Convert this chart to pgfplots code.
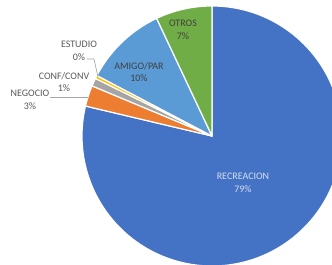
\documentclass[border=0pt]{standalone}
\usepackage{pgfplots}
\usepackage{pgfplotstable}
\pgfplotsset{compat=1.18}
\usepackage{fontspec}
\setmainfont{Carlito}
\definecolor{cRec}{HTML}{4472C4}
\definecolor{cNeg}{HTML}{ED7D31}
\definecolor{cConf}{HTML}{A5A5A5}
\definecolor{cEst}{HTML}{FFC000}
\definecolor{cAmi}{HTML}{5B9BD5}
\definecolor{cOtr}{HTML}{70AD47}
\definecolor{txtdark}{HTML}{404040}
\definecolor{txtout}{HTML}{595959}
\definecolor{txtlight}{HTML}{D6DEF0}
\definecolor{leader}{HTML}{A6A6A6}
\pgfplotstableread{
name value col
RECREACION 78.7 cRec
NEGOCIO 2.6 cNeg
CONF/CONV 1.0 cConf
ESTUDIO 0.4 cEst
AMIGO/PAR 10.3 cAmi
OTROS 7.0 cOtr
}\piedata
\begin{document}
\begin{tikzpicture}
\begin{axis}[name=ax, x=1pt, y=1pt, xmin=0, xmax=332, ymin=0, ymax=265,
  hide axis, clip=true]
\addplot[draw=none, forget plot] coordinates {(0,0) (332,265)};
\pgfplotsextra{
  \begin{scope}
  \clip (axis cs:0,0) rectangle (axis cs:332,265);
  \def\cum{0}
  \pgfplotsforeachungrouped \i in {0,...,5}{
    \pgfplotstablegetelem{\i}{value}\of\piedata \let\v\pgfplotsretval
    \pgfplotstablegetelem{\i}{col}\of\piedata \let\c\pgfplotsretval
    \pgfmathsetmacro\sa{90-3.6*\cum}
    \pgfmathsetmacro\cum{\cum+\v}
    \pgfmathsetmacro\ea{90-3.6*\cum}
    \fill[fill=\c, draw=white, line width=1.2pt, line join=round]
      (axis cs:212,129) -- ++(\sa:130pt) arc[start angle=\sa, end angle=\ea, radius=130pt] -- cycle;
  }
  \end{scope}
  \draw[leader, line width=0.7pt] (axis cs:87,206) -- (axis cs:94,206) -- (axis cs:98,188);
  \draw[leader, line width=0.7pt] (axis cs:50,167.5) -- (axis cs:88,167.5);
  \tikzset{lbl/.style={align=center, inner sep=0pt, font=\fontsize{10}{12.5}\selectfont}}
  \node[lbl, text=txtdark] at (axis cs:183,235) {OTROS\\7\%};
  \node[lbl, text=txtdark] at (axis cs:139,193) {AMIGO/PAR\\10\%};
  \node[lbl, text=txtout] at (axis cs:79,214) {ESTUDIO\\0\%};
  \node[lbl, text=txtout] at (axis cs:64,183) {CONF/CONV\\1\%};
  \node[lbl, text=txtout] at (axis cs:30,165.3) {NEGOCIO\\3\%};
  \node[lbl, text=txtlight] at (axis cs:243,82) {RECREACION\\79\%};
}
\end{axis}
\pgfresetboundingbox
\path (ax.south west) rectangle (ax.north east);
\end{tikzpicture}
\end{document}
